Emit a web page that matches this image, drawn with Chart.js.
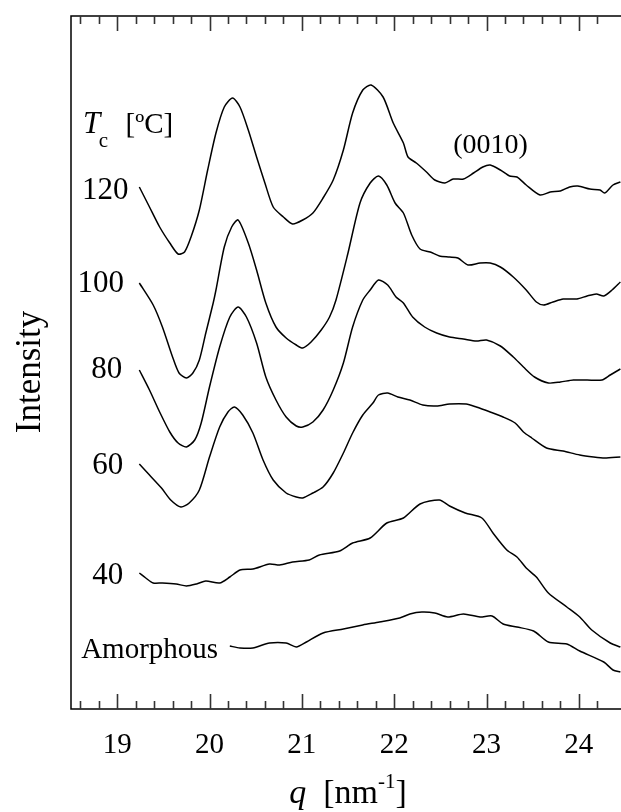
<!DOCTYPE html>
<html>
<head>
<meta charset="utf-8">
<script src="https://cdn.jsdelivr.net/npm/chart.js@4.4.1/dist/chart.umd.min.js"></script>
<style>
  html, body { margin: 0; padding: 0; background: #fff; overflow: hidden; }
  #wrap { width: 626px; height: 812px; }
</style>
</head>
<body>
<div id="wrap"><canvas id="waxdChart" width="626" height="812"></canvas></div>
<script>
// q [nm^-1] and intensity (a.u., curves shifted vertically)
const q120 = [19.24,19.35,19.46,19.57,19.66,19.73,19.80,19.89,19.98,20.07,20.16,20.25,20.33,20.42,20.51,20.60,20.69,20.80,20.90,21.01,21.12,21.23,21.34,21.45,21.55,21.66,21.75,21.88,21.99,22.10,22.15,22.24,22.35,22.44,22.55,22.64,22.75,22.86,22.96,23.04,23.15,23.25,23.33,23.43,23.58,23.69,23.80,23.90,23.99,24.12,24.23,24.28,24.37,24.45];
const i120 = [522,502,482,466,455,457,472,499,539,576,602,611,602,579,552,526,502,492,485,489,496,511,529,559,596,619,624,612,586,566,552,546,537,529,526,530,530,536,542,544,539,533,532,524,514,517,518,522,523,520,519,516,524,527];

const q100 = [19.24,19.39,19.49,19.60,19.67,19.75,19.82,19.89,19.96,20.04,20.07,20.16,20.24,20.31,20.42,20.51,20.61,20.72,20.83,20.94,21.01,21.10,21.21,21.30,21.37,21.50,21.63,21.74,21.83,21.92,22.01,22.10,22.19,22.28,22.39,22.49,22.60,22.69,22.80,22.93,23.04,23.15,23.29,23.43,23.54,23.62,23.72,23.83,23.98,24.09,24.19,24.27,24.36,24.45];
const i100 = [426,404,382,352,336,331,336,349,376,406,419,462,482,489,466,439,406,382,371,364,361,367,379,392,409,456,506,526,533,524,506,496,474,460,457,453,452,451,444,446,446,442,432,419,407,404,407,410,410,413,415,413,419,427];

const q80 = [19.24,19.35,19.46,19.57,19.66,19.75,19.84,19.91,20.00,20.11,20.22,20.31,20.40,20.51,20.61,20.72,20.83,20.94,21.01,21.12,21.23,21.34,21.45,21.55,21.66,21.74,21.83,21.93,22.02,22.10,22.20,22.33,22.46,22.60,22.75,22.89,23.00,23.15,23.29,23.40,23.52,23.67,23.80,23.94,24.09,24.25,24.34,24.45];
const i80 = [339,319,297,277,266,262,269,286,322,362,392,402,392,366,332,309,292,283,282,287,299,319,346,382,409,419,429,424,412,406,392,382,376,372,370,368,369,363,352,342,332,326,327,329,329,329,334,340];

const q60 = [19.24,19.35,19.48,19.58,19.69,19.78,19.89,20.00,20.11,20.20,20.27,20.36,20.47,20.58,20.69,20.83,20.94,21.01,21.12,21.23,21.34,21.45,21.55,21.66,21.77,21.83,21.93,22.04,22.17,22.31,22.46,22.60,22.78,22.89,23.04,23.18,23.31,23.40,23.49,23.65,23.83,24.01,24.16,24.28,24.45];
const i60 = [245,234,221,209,202,206,219,252,282,297,302,294,276,249,229,216,212,211,216,222,236,256,276,294,306,314,316,312,309,304,303,305,305,302,297,292,286,277,271,261,258,254,252,251,252];

const q40 = [19.24,19.31,19.39,19.49,19.64,19.75,19.86,19.96,20.11,20.22,20.33,20.47,20.65,20.76,20.90,21.08,21.19,21.41,21.55,21.74,21.92,22.10,22.28,22.49,22.60,22.77,22.95,23.07,23.22,23.33,23.43,23.54,23.67,23.87,24.01,24.14,24.34,24.45];
const i40 = [136,131,126,126,125,123,125,128,126,132,139,140,145,144,147,149,154,158,166,171,186,191,205,209,203,196,191,176,159,152,141,132,116,102,92,79,66,62];

const qAmorphous = [20.22,20.33,20.47,20.65,20.83,20.94,21.05,21.23,21.45,21.66,21.84,22.06,22.17,22.30,22.44,22.58,22.75,22.93,23.06,23.18,23.33,23.51,23.67,23.87,24.01,24.27,24.37,24.45];
const iAmorphous = [63,61,61,66,66,62,67,76,80,84,87,91,95,97,96,92,95,92,93,85,82,78,67,65,58,47,39,37];

const qTickLabels = [19, 20, 21, 22, 23, 24];
const serif = '"Liberation Serif", "Times New Roman", serif';

function toPoints(qs, ys) {
    return qs.map((q, k) => ({ x: q, y: ys[k] }));
}

function curve(label, qs, ys) {
    return {
        label: label,
        data: toPoints(qs, ys),
        borderColor: '#000',
        borderWidth: 1.5,
        pointRadius: 0,
        tension: 0.25,
        fill: false
    };
}

// frame with inward ticks on top and bottom
const framePlugin = {
    id: 'frame',
    afterDatasetsDraw(chart) {
        const { ctx, chartArea: a, scales: { x } } = chart;
        ctx.save();
        ctx.strokeStyle = '#000';
        ctx.lineWidth = 1.5;
        ctx.beginPath();
        ctx.moveTo(a.right, a.top);
        ctx.lineTo(a.left, a.top);
        ctx.lineTo(a.left, a.bottom);
        ctx.lineTo(a.right, a.bottom);
        ctx.stroke();
        ctx.strokeStyle = '#333';
        ctx.lineWidth = 1.6;
        ctx.beginPath();
        for (let k = 1; k < 30; k++) {
            const v = Math.round((18.4 + k * 0.2) * 10) / 10;
            const px = Math.round(x.getPixelForValue(v)) + 0.5;
            const len = Number.isInteger(v) ? 15 : 8;
            ctx.moveTo(px, a.bottom);
            ctx.lineTo(px, a.bottom - len);
            ctx.moveTo(px, a.top);
            ctx.lineTo(px, a.top + len);
        }
        ctx.stroke();
        ctx.restore();
    }
};

// texts inside the plot, anchored in data coordinates
const textPlugin = {
    id: 'texts',
    afterDraw(chart) {
        const { ctx, scales: { x, y } } = chart;
        const put = (txt, q, v, size, style) => {
            ctx.font = (style || '') + ' ' + size + 'px ' + serif;
            ctx.fillText(txt, x.getPixelForValue(q), y.getPixelForValue(v));
            return ctx.measureText(txt).width;
        };
        ctx.save();
        ctx.fillStyle = '#000';
        ctx.textAlign = 'left';
        ctx.textBaseline = 'alphabetic';

        put('120', 18.62, 510, 31);
        put('100', 18.57, 417, 31);
        put('80', 18.72, 331, 31);
        put('60', 18.73, 235, 31);
        put('40', 18.73, 125, 31);
        put('Amorphous', 18.61, 51, 29);
        put('(0010)', 22.64, 556, 28);

        // T_c [ºC]
        put('T', 18.63, 576, 31, 'italic');
        put('c', 18.80, 562, 21);
        put('[\u00baC]', 19.09, 576, 29);

        // axis titles
        ctx.font = '35px ' + serif;
        ctx.save();
        ctx.translate(40, 372);
        ctx.rotate(-Math.PI / 2);
        ctx.textAlign = 'center';
        ctx.fillText('Intensity', 0, 0);
        ctx.restore();

        const base = 803;
        ctx.font = 'italic 34px ' + serif;
        const wq = ctx.measureText('q').width;
        ctx.font = '34px ' + serif;
        const wA = ctx.measureText('  [nm').width;
        ctx.font = '21px ' + serif;
        const wS = ctx.measureText('-1').width;
        ctx.font = '34px ' + serif;
        const wB = ctx.measureText(']').width;
        let cx = 348 - (wq + wA + wS + wB) / 2;
        ctx.font = 'italic 34px ' + serif;
        ctx.fillText('q', cx, base); cx += wq;
        ctx.font = '34px ' + serif;
        ctx.fillText('  [nm', cx, base); cx += wA;
        ctx.font = '21px ' + serif;
        ctx.fillText('-1', cx, base - 15); cx += wS;
        ctx.font = '34px ' + serif;
        ctx.fillText(']', cx, base);
        ctx.restore();
    }
};

const ctx = document.getElementById('waxdChart').getContext('2d');
new Chart(ctx, {
    type: 'line',
    data: {
        datasets: [
            curve('120', q120, i120),
            curve('100', q100, i100),
            curve('80', q80, i80),
            curve('60', q60, i60),
            curve('40', q40, i40),
            curve('Amorphous', qAmorphous, iAmorphous)
        ]
    },
    options: {
        responsive: false,
        animation: false,
        layout: { padding: { left: 71, top: 16, right: 1, bottom: 0 } },
        plugins: { legend: { display: false }, tooltip: { enabled: false } },
        scales: {
            x: {
                type: 'linear',
                min: 18.5,
                max: 24.5,
                grid: { display: false, drawTicks: false },
                border: { display: false },
                afterBuildTicks: (scale) => { scale.ticks = qTickLabels.map(v => ({ value: v })); },
                afterFit: (scale) => { scale.height = 103; },
                ticks: {
                    padding: 19,
                    maxRotation: 0,
                    autoSkip: false,
                    color: '#000',
                    font: { family: serif, size: 29 },
                    callback: (v) => String(v)
                }
            },
            y: {
                display: false,
                min: 0,
                max: 693
            }
        }
    },
    plugins: [framePlugin, textPlugin]
});
</script>
</body>
</html>
